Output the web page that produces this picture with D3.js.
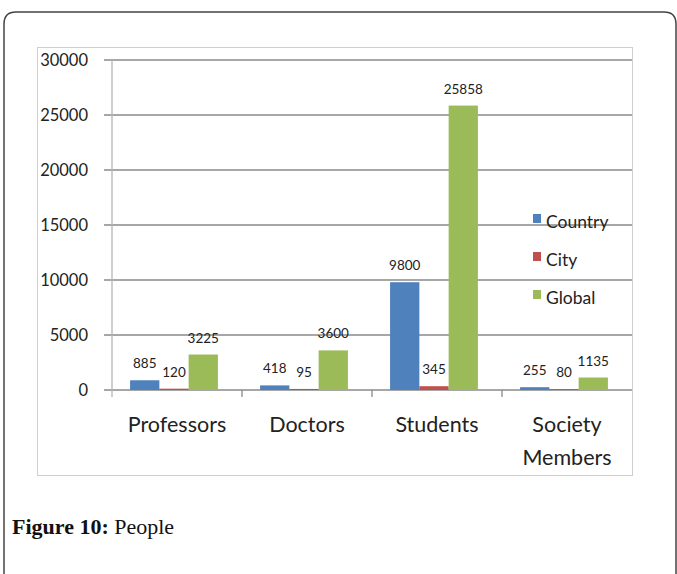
<!DOCTYPE html>
<html>
<head>
<meta charset="utf-8">
<script src="https://d3js.org/d3.v7.min.js"></script>
<style>
  body { margin: 0; background: #fff; }
  svg { display: block; }
</style>
</head>
<body>
<svg id="chart" width="677" height="574"></svg>
<script>
const categories = ["Professors", "Doctors", "Students", "Society Members"];
const seriesNames = ["Country", "City", "Global"];
const country = [885, 418, 9800, 255];
const city = [120, 95, 345, 80];
const global = [3225, 3600, 25858, 1135];
const yTicks = [0, 5000, 10000, 15000, 20000, 25000, 30000];
const colors = ["#4f81bd", "#c0504d", "#9bbb59"];

const values = [country, city, global];
const svg = d3.select("#chart");

// outer figure frame, open at the bottom
svg.append("path")
    .attr("d", "M4,574 L4,24 Q4,12 16,12 L664,12 Q676,12 676,24 L676,574")
    .attr("fill", "none")
    .attr("stroke", "#444")
    .attr("stroke-width", 1.5);

// chart area box
svg.append("rect")
    .attr("x", 37.5).attr("y", 47.5)
    .attr("width", 595).attr("height", 428)
    .attr("fill", "none")
    .attr("stroke", "#cfcfcf");

const x = d3.scaleBand().domain(categories).range([112, 632]);
const xs = d3.scaleBand().domain(seriesNames).range([-3, x.bandwidth() - 3]).paddingOuter(0.72).paddingInner(0);
const y = d3.scaleLinear().domain([0, 30000]).range([390, 60]);

// gridlines
svg.append("g").selectAll("line").data(yTicks).join("line")
    .attr("x1", 104).attr("x2", 632)
    .attr("y1", d => y(d)).attr("y2", d => y(d))
    .attr("stroke", "#8a8a8a").attr("stroke-width", 1.6);

// y axis line
svg.append("line")
    .attr("x1", 112).attr("x2", 112).attr("y1", 60).attr("y2", 397)
    .attr("stroke", "#b5b5b5").attr("stroke-width", 1.3);

// category ticks
svg.append("g").selectAll("line").data(categories.slice(1)).join("line")
    .attr("x1", d => x(d)).attr("x2", d => x(d))
    .attr("y1", 390).attr("y2", 397)
    .attr("stroke", "#8a8a8a").attr("stroke-width", 1.3);

// y tick labels
svg.append("g").selectAll("text").data(yTicks).join("text")
    .attr("x", 88).attr("y", d => y(d) + 5.5)
    .attr("text-anchor", "end")
    .style("font", "16.5px Lato, sans-serif")
    .attr("fill", "#222")
    .text(d => d);

// bars
const groups = svg.append("g").selectAll("g").data(seriesNames).join("g")
    .attr("fill", (d, i) => colors[i]);

groups.selectAll("rect")
    .data((s, si) => categories.map((c, ci) => ({c, s, v: values[si][ci]})))
    .join("rect")
    .attr("x", d => x(d.c) + xs(d.s))
    .attr("width", xs.bandwidth())
    .attr("y", d => y(d.v))
    .attr("height", d => y(0) - y(d.v));

// data labels
groups.selectAll("text")
    .data((s, si) => categories.map((c, ci) => ({c, s, v: values[si][ci]})))
    .join("text")
    .attr("x", d => x(d.c) + xs(d.s) + xs.bandwidth() / 2)
    .attr("y", d => y(d.v) - 12)
    .attr("text-anchor", "middle")
    .attr("fill", "#222")
    .style("font", "13.5px Lato, sans-serif")
    .text(d => d.v);

// category labels
svg.append("g").selectAll("text").data(categories).join("text")
    .attr("x", d => x(d) + x.bandwidth() / 2)
    .attr("y", 432)
    .attr("text-anchor", "middle")
    .attr("fill", "#222")
    .style("font", "21.5px Lato, sans-serif")
    .each(function(d) {
        const words = d === "Society Members" ? ["Society", "Members"] : [d];
        d3.select(this).selectAll("tspan").data(words).join("tspan")
            .attr("x", x(d) + x.bandwidth() / 2)
            .attr("dy", (w, i) => i ? 33 : 0)
            .text(w => w);
    });

// legend
const legend = svg.append("g").selectAll("g").data(seriesNames).join("g")
    .attr("transform", (d, i) => `translate(533, ${222 + i * 38})`);
legend.append("rect")
    .attr("x", 0).attr("y", -8).attr("width", 8).attr("height", 9)
    .attr("fill", (d, i) => colors[i]);
legend.append("text")
    .attr("x", 13).attr("y", 5.5)
    .attr("fill", "#222")
    .style("font", "17.5px Lato, sans-serif")
    .text(d => d);

// caption
const cap = svg.append("text")
    .attr("x", 12).attr("y", 534)
    .style("font", "22px 'Liberation Serif', serif")
    .attr("fill", "#111");
cap.append("tspan").attr("font-weight", "bold").text("Figure 10:");
cap.append("tspan").text(" People");
</script>
</body>
</html>
